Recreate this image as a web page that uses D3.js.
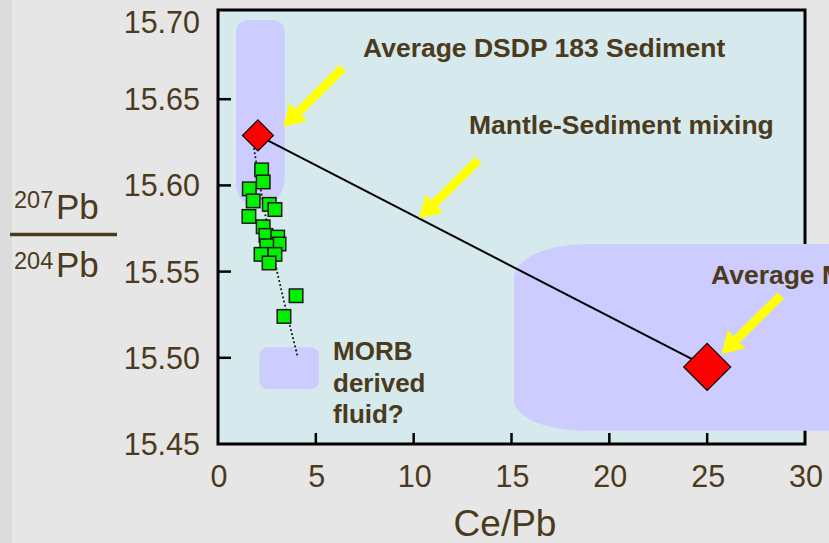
<!DOCTYPE html>
<html><head><meta charset="utf-8">
<script src="https://cdn.jsdelivr.net/npm/d3@7"></script>
<style>body{margin:0;background:#e6e6e6;} svg{display:block}</style>
</head><body><svg id="c" width="829" height="543"></svg>
<script>
// ---- data ----
const xTicks = [0, 5, 10, 15, 20, 25, 30];
const yTicks = [15.45, 15.50, 15.55, 15.60, 15.65, 15.70];
const sampleCePb = [2.23, 2.31, 1.60, 1.80, 2.62, 2.91, 1.58, 2.31, 2.45, 3.05, 3.12, 2.49, 2.20, 2.91, 2.61, 3.99, 3.37];
const samplePb   = [15.609, 15.602, 15.598, 15.591, 15.589, 15.586, 15.582, 15.576, 15.571, 15.570, 15.566, 15.565, 15.560, 15.560, 15.555, 15.536, 15.524];
const endMemberNames = ["Average DSDP 183 Sediment", "Average MORB"];
const endMemberCePb = [2.04, 25.0];
const endMemberPb   = [15.629, 15.4947];
const trendCePb = [1.80, 2.57, 4.07];
const trendPb   = [15.624, 15.574, 15.5006];
// field outlines (data units): [x0, x1, yTop, yBottom]
const sedimentField = [0.92, 3.42, 15.696, 15.5886];
const fluidField    = [2.11, 5.16, 15.5061, 15.4819];
const morbField     = [15.13, 36, 15.566, 15.4577];
// arrows (data units): [tailX, tailY, tipX, tipY]
const arrowSediment = [6.37, 15.668, 3.34, 15.634];
const arrowMixing   = [13.30, 15.6147, 10.29, 15.5809];
const arrowMorb     = [28.76, 15.536, 25.74, 15.5022];

// ---- drawing ----
const TXT = "#4b3a1c";
const FONT = "'Liberation Sans', Arial, Helvetica, sans-serif";
const svg = d3.select("#c").style("font-family", FONT);
svg.append("rect").attr("width", 829).attr("height", 543).attr("fill", "#e6e6e6");
svg.append("rect").attr("width", 12).attr("height", 543).attr("fill", "#dcdcdc");

const L = 218, R = 805, T = 10, B = 444;
const x = d3.scaleLinear().domain([0, 30]).range([L, R]);
const y = d3.scaleLinear().domain([15.45, 15.70]).range([B, 13]);

svg.append("rect").attr("x", L).attr("y", T).attr("width", R - L).attr("height", B - T).attr("fill", "#d6eaee");

function rr(x0, y0, x1, y1, tl, tr, br, bl) { // each corner [rx, ry]
  return `M${x0 + tl[0]},${y0} L${x1 - tr[0]},${y0} A${tr[0]},${tr[1]} 0 0 1 ${x1},${y0 + tr[1]}
    L${x1},${y1 - br[1]} A${br[0]},${br[1]} 0 0 1 ${x1 - br[0]},${y1}
    L${x0 + bl[0]},${y1} A${bl[0]},${bl[1]} 0 0 1 ${x0},${y1 - bl[1]}
    L${x0},${y0 + tl[1]} A${tl[0]},${tl[1]} 0 0 1 ${x0 + tl[0]},${y0} Z`;
}
const FIELD = "#ccccff";
svg.append("path").attr("fill", FIELD)
  .attr("d", rr(x(sedimentField[0]), y(sedimentField[2]), x(sedimentField[1]), y(sedimentField[3]), [12, 12], [12, 12], [20, 30], [16, 22]));
svg.append("path").attr("fill", FIELD)
  .attr("d", rr(x(fluidField[0]), y(fluidField[2]), x(fluidField[1]), y(fluidField[3]), [8, 8], [8, 8], [8, 8], [8, 8]));

// frame
svg.append("rect").attr("x", L).attr("y", T).attr("width", R - L).attr("height", B - T)
  .attr("fill", "none").attr("stroke", "#000").attr("stroke-width", 3);

// ticks (inward)
const tickG = svg.append("g");
yTicks.filter(v => v > 15.45 && v < 15.70).forEach(v => {
  tickG.append("line").attr("x1", L).attr("x2", L + 13).attr("y1", y(v)).attr("y2", y(v)).attr("stroke", "#000").attr("stroke-width", 2.5);
});
xTicks.filter(v => v > 0 && v < 30).forEach(v => {
  tickG.append("line").attr("x1", x(v)).attr("x2", x(v)).attr("y1", B).attr("y2", B - 11).attr("stroke", "#000").attr("stroke-width", 2.5);
});

// morb field over frame
svg.append("path").attr("fill", FIELD)
  .attr("d", rr(x(morbField[0]), y(morbField[2]), x(morbField[1]), y(morbField[3]), [72, 34], [1, 1], [1, 1], [72, 30]));

// axis labels
const fmt = d3.format(".2f");
svg.append("g").selectAll("text").data(yTicks).join("text")
  .attr("x", 200).attr("y", v => Math.max(y(v), 22)).attr("dy", "0.36em")
  .attr("text-anchor", "end").attr("font-size", 30.5).attr("fill", TXT).text(fmt);
svg.append("g").selectAll("text").data(xTicks).join("text")
  .attr("x", v => x(v) + 1).attr("y", 487).attr("text-anchor", "middle")
  .attr("font-size", 30.5).attr("fill", TXT).text(d => d);
svg.append("text").attr("x", 505).attr("y", 536).attr("text-anchor", "middle")
  .attr("font-size", 37).attr("fill", TXT).text("Ce/Pb");

// y title fraction
svg.append("text").attr("x", 14).attr("y", 208).attr("font-size", 23.5).attr("fill", TXT).text("207");
svg.append("text").attr("x", 56).attr("y", 219).attr("font-size", 35).attr("fill", TXT).text("Pb");
svg.append("line").attr("x1", 10).attr("x2", 117).attr("y1", 234.5).attr("y2", 234.5).attr("stroke", TXT).attr("stroke-width", 3.5);
svg.append("text").attr("x", 14).attr("y", 269).attr("font-size", 23.5).attr("fill", TXT).text("204");
svg.append("text").attr("x", 56).attr("y", 277).attr("font-size", 35).attr("fill", TXT).text("Pb");

// dotted trend
const trend = trendCePb.map((v, i) => [v, trendPb[i]]);
svg.append("path").datum(trend)
  .attr("d", d3.line().x(d => x(d[0])).y(d => y(d[1])).curve(d3.curveMonotoneY))
  .attr("fill", "none").attr("stroke", "#111").attr("stroke-width", 1.8).attr("stroke-dasharray", "1.8,2.4");

// mixing line
svg.append("line")
  .attr("x1", x(endMemberCePb[0])).attr("y1", y(endMemberPb[0]))
  .attr("x2", x(endMemberCePb[1])).attr("y2", y(endMemberPb[1]))
  .attr("stroke", "#000").attr("stroke-width", 2);

// samples
const S = 13.5;
svg.append("g").selectAll("rect").data(sampleCePb.map((v, i) => [v, samplePb[i]])).join("rect")
  .attr("x", d => x(d[0]) - S / 2).attr("y", d => y(d[1]) - S / 2)
  .attr("width", S).attr("height", S)
  .attr("fill", "#00f000").attr("stroke", "#1a1a1a").attr("stroke-width", 1.5);

// end members
const dSize = [15.5, 23.5];
svg.append("g").selectAll("path").data(endMemberNames).join("path")
  .attr("d", (d, i) => {
    const cx = x(endMemberCePb[i]), cy = y(endMemberPb[i]), r = dSize[i];
    return `M${cx},${cy - r} L${cx + r},${cy} L${cx},${cy + r} L${cx - r},${cy} Z`;
  })
  .attr("fill", "#ff0000").attr("stroke", "#000").attr("stroke-width", 1.2);

// arrows
function arrow(a) {
  const tx = x(a[0]), ty = y(a[1]), px = x(a[2]), py = y(a[3]);
  const dx = px - tx, dy = py - ty, len = Math.hypot(dx, dy);
  const ux = dx / len, uy = dy / len, nx = -uy, ny = ux;
  const w = 4.4, hl = 21, hw = 12.5;
  const bx = px - ux * hl, by = py - uy * hl;
  const pts = [
    [tx + nx * w, ty + ny * w], [bx + nx * w, by + ny * w], [bx + nx * hw, by + ny * hw],
    [px, py], [bx - nx * hw, by - ny * hw], [bx - nx * w, by - ny * w], [tx - nx * w, ty - ny * w]
  ];
  svg.append("polygon").attr("points", pts.map(p => p.join(",")).join(" ")).attr("fill", "#ffff00");
}
[arrowSediment, arrowMixing, arrowMorb].forEach(arrow);

// annotations
const ann = svg.append("g").attr("font-weight", "bold").attr("fill", TXT).attr("font-size", 26.5);
ann.append("text").attr("x", 363).attr("y", 57).text(endMemberNames[0]);
ann.append("text").attr("x", 469).attr("y", 134).text("Mantle-Sediment mixing");
ann.append("text").attr("x", 711).attr("y", 284).text(endMemberNames[1]);
const fl = ann.append("text").attr("x", 333).attr("font-size", 26);
["MORB", "derived", "fluid?"].forEach((t, i) => fl.append("tspan").attr("x", 333).attr("y", 360 + i * 31.5).text(t));
</script></body></html>
